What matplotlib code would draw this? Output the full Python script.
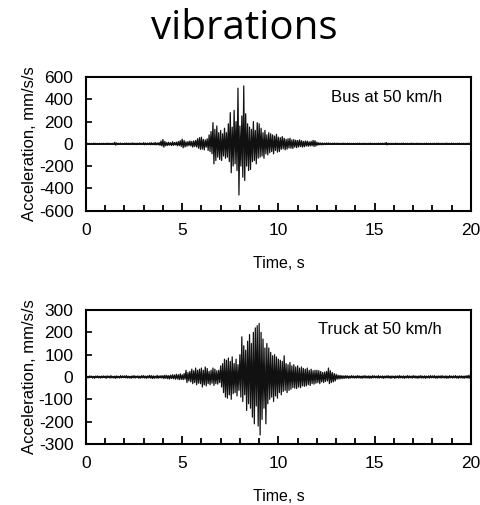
import numpy as np
import matplotlib.pyplot as plt
from matplotlib.ticker import MultipleLocator

# time grid: 0.05 s steps, 20 samples per second (one row per second below)
time = np.round(np.arange(0, 20.001, 0.05), 2)

# bus at 50 km/h, acceleration in mm/s/s (peak to peak)
bus_accel = [
    3, -4, 5, -3, 4, -5, 3, -4, 6, -3, 4, -5, 3, -4, 5, -6, 4, -3, 5, -4,
    4, -5, 6, -4, 5, -3, 4, -6, 5, -4, 14, -12, 8, -6, 5, -4, 6, -5, 4, -5,
    5, -6, 7, -5, 6, -7, 5, -6, 8, -5, 6, -7, 5, -8, 6, -5, 7, -6, 5, -7,
    10, -9, 7, -8, 6, -7, 8, -9, 10, -8, 7, -9, 12, -10, 8, -9, 11, -14, 25, -20,
    38, -30, 22, -18, 12, -15, 14, -12, 10, -16, 18, -14, 12, -10, 15, -18, 20, -16, 28, -24,
    42, -36, 30, -28, 18, -22, 20, -16, 25, -20, 22, -30, 26, -24, 30, -28, 45, -40, 55, -50,
    60, -48, 40, -55, 35, -30, 45, -60, 80, -70, 110, -90, 190, -180, 130, -150, 160, -120, 100, -140,
    120, -150, 90, -110, 140, -130, 100, -120, 180, -160, 280, -260, 150, -200, 300, -180, 200, -240, 500, -460,
    160, -200, 250, -300, 520, -330, 270, -200, 180, -240, 150, -230, 130, -160, 200, -150, 120, -180, 190, -130,
    180, -120, 140, -110, 100, -130, 120, -90, 80, -100, 100, -80, 90, -70, 80, -90, 70, -60, 85, -75,
    60, -70, 55, -50, 65, -45, 50, -55, 40, -48, 45, -38, 50, -40, 35, -42, 38, -30, 32, -35,
    30, -28, 35, -25, 28, -30, 22, -26, 25, -20, 24, -22, 18, -20, 22, -18, 30, -24, 28, -20,
    15, -12, 10, -9, 8, -10, 7, -8, 6, -7, 8, -6, 7, -5, 6, -7, 5, -6, 7, -5,
    5, -4, 6, -5, 4, -6, 5, -4, 6, -5, 4, -5, 6, -4, 5, -6, 4, -5, 5, -4,
    4, -5, 5, -4, 6, -5, 4, -6, 5, -4, 5, -5, 4, -6, 5, -4, 6, -5, 4, -5,
    5, -6, 4, -5, 6, -4, 5, -5, 6, -4, 5, -6, 12, -10, 6, -5, 4, -6, 5, -4,
    4, -5, 6, -4, 5, -5, 4, -6, 5, -4, 6, -5, 4, -5, 5, -6, 4, -5, 6, -4,
    5, -4, 4, -5, 6, -5, 4, -4, 5, -6, 4, -5, 5, -4, 6, -5, 4, -6, 5, -4,
    4, -6, 5, -4, 5, -5, 6, -4, 4, -5, 5, -6, 4, -4, 6, -5, 5, -4, 4, -5,
    6, -4, 5, -5, 4, -6, 5, -4, 6, -5, 4, -5, 5, -6, 4, -4, 5, -5, 6, -4,
    5,
]

# truck at 50 km/h
truck_accel = [
    4, -5, 3, -4, 5, -3, 4, -5, 3, -6, 4, -3, 5, -4, 3, -5, 4, -4, 5, -3,
    4, -6, 5, -3, 4, -5, 6, -4, 3, -5, 4, -6, 5, -4, 3, -5, 6, -4, 5, -3,
    5, -4, 6, -5, 4, -5, 3, -6, 5, -4, 6, -5, 4, -3, 5, -6, 4, -5, 6, -4,
    6, -5, 4, -6, 5, -4, 7, -5, 6, -7, 5, -6, 4, -5, 7, -6, 5, -4, 6, -5,
    6, -7, 8, -6, 7, -8, 6, -9, 8, -7, 10, -8, 9, -10, 12, -9, 10, -12, 14, -11,
    10, -12, 15, -10, 30, -25, 20, -18, 25, -22, 35, -30, 28, -25, 40, -35, 30, -28, 35, -30,
    40, -45, 30, -35, 45, -40, 38, -30, 25, -35, 30, -28, 40, -38, 35, -30, 28, -32, 30, -25,
    50, -45, 60, -70, 80, -90, 75, -95, 85, -80, 70, -100, 90, -75, 60, -70, 80, -85, 55, -60,
    100, -90, 180, -110, 140, -80, 120, -150, 160, -120, 190, -140, 150, -180, 200, -210, 220, -130, 230, -220,
    240, -260, 200, -190, 170, -140, 130, -210, 150, -120, 130, -100, 110, -90, 95, -110, 100, -85, 90, -95,
    80, -70, 75, -80, 70, -65, 95, -60, 60, -70, 55, -60, 65, -55, 50, -48, 55, -50, 45, -52,
    50, -45, 40, -48, 45, -40, 38, -42, 35, -40, 40, -35, 30, -38, 35, -30, 28, -32, 30, -28,
    30, -25, 28, -30, 25, -22, 20, -25, 22, -20, 25, -18, 40, -30, 28, -25, 20, -22, 15, -18,
    12, -10, 8, -9, 7, -8, 6, -7, 5, -6, 6, -5, 5, -6, 4, -5, 6, -4, 5, -5,
    4, -5, 6, -4, 5, -5, 4, -6, 5, -4, 6, -5, 4, -5, 5, -6, 4, -5, 6, -4,
    5, -4, 4, -5, 6, -5, 4, -4, 5, -6, 4, -5, 5, -4, 6, -5, 4, -6, 5, -4,
    4, -6, 5, -4, 5, -5, 6, -4, 4, -5, 5, -6, 4, -4, 6, -5, 5, -4, 4, -5,
    6, -4, 5, -5, 4, -6, 5, -4, 6, -5, 4, -5, 5, -6, 4, -4, 5, -5, 6, -4,
    5, -4, 6, -5, 4, -6, 5, -4, 5, -5, 6, -4, 4, -5, 5, -6, 4, -5, 6, -4,
    4, -5, 5, -4, 6, -5, 4, -6, 5, -4, 5, -5, 4, -6, 5, -4, 6, -5, 8, -6,
    5,
]

panels = [
    (bus_accel, 'Bus at 50 km/h', 600, 200, [0.179, 0.583, 0.802, 0.2645], (0.925, 0.843)),
    (truck_accel, 'Truck at 50 km/h', 300, 100, [0.179, 0.121, 0.802, 0.265], (0.925, 0.858)),
]

plt.rcParams['font.family'] = ['Liberation Sans', 'DejaVu Sans']
plt.rcParams['axes.unicode_minus'] = False

fig = plt.figure(figsize=(4.8, 5.05), dpi=100)
fig.text(0.508, 0.923, 'vibrations', fontsize=29, family='Open Sans',
         ha='center', va='baseline')

for accel, label, ymax, ystep, rect, txt_pos in panels:
    ax = fig.add_axes(rect)
    ax.plot(time, accel, color='#111111', linewidth=0.9)
    ax.axhline(0, color='#111111', linewidth=1.4)
    ax.set_xlim(0, 20)
    ax.set_ylim(-ymax, ymax)
    ax.xaxis.set_major_locator(MultipleLocator(5))
    ax.xaxis.set_minor_locator(MultipleLocator(1))
    ax.yaxis.set_major_locator(MultipleLocator(ystep))
    ax.tick_params(axis='x', which='major', direction='in', length=6, width=1.3,
                   labelsize=12.5, pad=9, top=False)
    ax.tick_params(axis='x', which='minor', direction='in', length=4.5, width=1.3, top=False)
    ax.tick_params(axis='y', which='major', direction='in', length=4, width=1.2,
                   labelsize=12.5, pad=9)
    for s in ax.spines.values():
        s.set_linewidth(1.5)
    ax.set_xlabel('Time, s', fontsize=11.5, labelpad=13)
    ax.set_ylabel('Acceleration, mm/s/s', fontsize=12, labelpad=1)
    ax.text(txt_pos[0], txt_pos[1], label, transform=ax.transAxes,
            ha='right', va='center', fontsize=12)

fig.savefig('out.png', dpi=100)
